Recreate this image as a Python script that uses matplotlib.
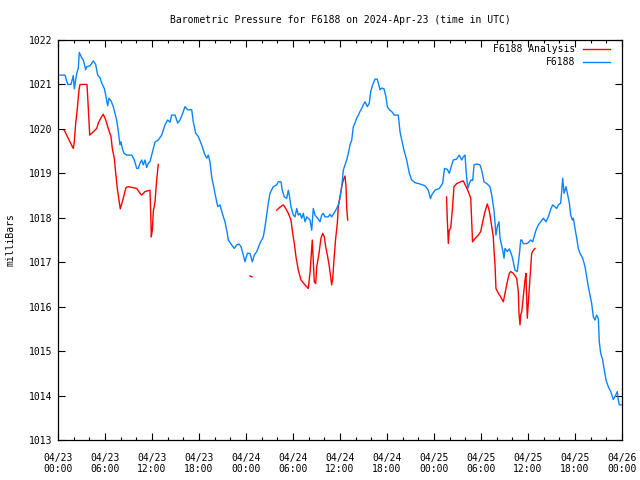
import numpy as np
import matplotlib
matplotlib.use("Agg")
import matplotlib.pyplot as plt
from matplotlib.ticker import MultipleLocator
from matplotlib.lines import Line2D

# hours since 2024-04-23 00:00 UTC
blue_t = [0.26, 0.89, 1.24, 1.66, 1.95, 2.08, 2.39, 2.59, 2.72, 3.03, 3.23, 3.54, 3.66, 4.09, 4.51, 4.81,
          5.07, 5.36, 5.58, 5.91, 6.09, 6.34, 6.51, 6.77, 7.06, 7.28, 7.49, 7.70, 7.91, 8.04, 8.21, 8.43,
          8.77, 9.41, 9.74, 10.05, 10.25, 10.47, 10.68, 10.89, 11.11, 11.32, 11.53, 11.74, 11.96, 12.17,
          12.38, 12.80, 13.24, 13.66, 14.00, 14.30, 14.51, 14.94, 15.28, 15.57, 15.92, 16.21, 16.56, 17.07,
          17.27, 17.58, 17.91, 18.34, 18.68, 18.98, 19.19, 19.40, 19.62, 19.83, 20.13, 20.39, 20.68, 20.97,
          21.32, 21.61, 21.74, 22.17, 22.51, 22.81, 23.11, 23.36, 23.66, 23.87, 24.17, 24.51, 24.80, 25.06,
          25.37, 25.79, 26.21, 26.43, 26.64, 26.85, 27.06, 27.48, 27.92, 28.12, 28.47, 28.63, 28.89, 29.20,
          29.40, 29.53, 29.74, 30.04, 30.26, 30.47, 30.68, 30.89, 31.11, 31.32, 31.53, 31.75, 31.95, 32.17,
          32.39, 32.59, 32.81, 33.15, 33.45, 33.66, 33.87, 34.09, 34.51, 34.72, 34.94, 35.27, 35.58, 35.78,
          36.00, 36.22, 36.42, 36.64, 36.86, 37.06, 37.28, 37.50, 37.70, 37.91, 38.13, 38.34, 38.55, 38.77,
          38.97, 39.19, 39.49, 39.74, 39.92, 40.17, 40.47, 40.76, 41.11, 41.32, 41.62, 41.87, 42.04, 42.29,
          42.60, 42.93, 43.44, 43.66, 43.88, 44.17, 44.51, 44.85, 45.15, 45.57, 46.21, 46.85, 47.27, 47.55,
          47.70, 48.13, 48.68, 49.11, 49.34, 49.70, 49.95, 50.13, 50.46, 50.87, 51.23, 51.53, 51.74, 51.96,
          52.12, 52.32, 52.53, 52.72, 52.94, 53.11, 53.45, 53.87, 54.09, 54.38, 54.73, 55.15, 55.37, 55.66,
          55.91, 56.08, 56.30, 56.43, 56.77, 56.94, 57.06, 57.36, 57.62, 57.92, 58.12, 58.34, 58.63, 58.89,
          59.07, 59.20, 59.40, 59.91, 60.35, 60.60, 60.77, 61.02, 61.32, 61.62, 61.96, 62.30, 62.59, 62.90,
          63.15, 63.66, 63.87, 64.17, 64.30, 64.43, 64.60, 64.85, 65.02, 65.28, 65.45, 65.66, 65.79, 66.00,
          66.22, 66.42, 66.64, 66.98, 67.28, 67.49, 67.70, 67.91, 68.13, 68.34, 68.55, 68.77, 68.98, 69.10,
          69.28, 69.54, 69.70, 69.96, 70.25, 70.56, 70.89, 71.20, 71.40, 71.53, 71.66, 71.88]
blue_p = [1021.21, 1021.21, 1021.0, 1021.0, 1021.2, 1020.9, 1021.25, 1021.36, 1021.72, 1021.6, 1021.55, 1021.33,
          1021.4, 1021.42, 1021.53, 1021.45, 1021.21, 1021.15, 1021.03, 1020.91, 1020.76, 1020.52, 1020.69,
          1020.63, 1020.5, 1020.35, 1020.2, 1019.94, 1019.64, 1019.71, 1019.56, 1019.45, 1019.41, 1019.41,
          1019.3, 1019.11, 1019.11, 1019.23, 1019.3, 1019.19, 1019.3, 1019.13, 1019.23, 1019.26, 1019.41,
          1019.56, 1019.7, 1019.75, 1019.86, 1020.09, 1020.2, 1020.15, 1020.31, 1020.31, 1020.13, 1020.2,
          1020.35, 1020.5, 1020.43, 1020.43, 1020.16, 1019.9, 1019.83, 1019.64, 1019.45, 1019.34, 1019.41,
          1019.26, 1018.92, 1018.74, 1018.47, 1018.25, 1018.29, 1018.1, 1017.91, 1017.65, 1017.5, 1017.39,
          1017.31, 1017.39, 1017.41, 1017.35, 1017.16, 1017.01, 1017.2, 1017.2, 1017.01, 1017.16, 1017.24,
          1017.43, 1017.57, 1017.8, 1018.06, 1018.33, 1018.55, 1018.7, 1018.74, 1018.81, 1018.81, 1018.62,
          1018.47, 1018.44, 1018.62, 1018.51, 1018.25, 1018.06, 1018.02, 1018.21, 1018.06, 1018.1, 1017.99,
          1018.1, 1017.91, 1018.02, 1017.99, 1017.95, 1017.72, 1018.21, 1018.06, 1017.99, 1017.91, 1018.06,
          1018.1, 1018.02, 1018.02, 1018.08, 1018.02, 1018.12, 1018.21, 1018.29, 1018.44, 1018.7, 1019.07,
          1019.19, 1019.3, 1019.45, 1019.64, 1019.75, 1020.05, 1020.13, 1020.24, 1020.31, 1020.39, 1020.46,
          1020.54, 1020.61, 1020.5, 1020.58, 1020.84, 1020.99, 1021.12, 1021.12, 1020.88, 1020.92, 1020.9,
          1020.72, 1020.5, 1020.43, 1020.39, 1020.31, 1020.31, 1019.94, 1019.75, 1019.52, 1019.3, 1019.0,
          1018.85, 1018.79, 1018.76, 1018.72, 1018.62, 1018.43, 1018.51, 1018.62, 1018.66, 1018.78, 1019.11,
          1019.09, 1019.0, 1019.11, 1019.3, 1019.32, 1019.41, 1019.3, 1019.37, 1019.41, 1019.0, 1018.66,
          1018.78, 1018.85, 1018.84, 1019.19, 1019.21, 1019.19, 1019.07, 1018.81, 1018.77, 1018.7, 1018.51,
          1018.17, 1017.61, 1017.8, 1017.91, 1017.54, 1017.27, 1017.09, 1017.31, 1017.24, 1017.3, 1017.16,
          1017.01, 1016.82, 1016.79, 1017.16, 1017.5, 1017.5, 1017.42, 1017.42, 1017.5, 1017.46, 1017.57,
          1017.72, 1017.84, 1017.91, 1017.99, 1017.91, 1018.02, 1018.19, 1018.29, 1018.21, 1018.29, 1018.33,
          1018.59, 1018.89, 1018.55, 1018.7, 1018.55, 1018.33, 1018.06, 1017.95, 1017.99, 1017.76, 1017.54,
          1017.31, 1017.2, 1017.09, 1016.9, 1016.67, 1016.45, 1016.26, 1016.07, 1015.77, 1015.7, 1015.81,
          1015.73, 1015.21, 1014.95, 1014.8, 1014.61, 1014.35, 1014.2, 1014.09, 1013.91, 1014.01, 1014.09,
          1013.9, 1013.79, 1013.79]

nan = float("nan")
red_t = [0.80, 1.11, 1.53, 1.95, 2.08, 2.26, 2.43, 2.68, 2.81, 3.70, 3.79, 3.96, 4.05, 4.30, 4.94, 5.14,
         5.49, 5.78, 6.09, 6.42, 6.77, 6.93, 7.19, 7.37, 7.57, 7.79, 7.95, 8.21, 8.43, 8.68, 8.97, 9.49,
         10.05, 10.47, 10.68, 11.11, 11.74, 11.83, 11.91, 12.04, 12.17, 12.38, 12.60, 12.80, nan,
         24.51, 24.77, nan,
         27.92, 28.34, 28.76, 29.07, 29.40, 29.74, 29.96, 30.17, 30.38, 30.68, 31.02, 31.53, 31.95, 32.17,
         32.46, 32.59, 32.72, 32.90, 33.03, 33.32, 33.57, 33.79, 34.00, 34.17, 34.43, 34.64, 34.81, 34.94,
         35.07, 35.23, 35.45, 35.66, 35.78, 36.00, 36.22, 36.42, 36.64, 36.77, 36.86, 36.98, nan,
         49.60, 49.70, 49.83, 49.95, 50.13, 50.34, 50.55, 50.90, 51.41, 51.74, 52.09, 52.38, 52.69, 52.81,
         52.92, 53.23, 53.66, 53.96, 54.22, 54.51, 54.80, 54.98, 55.15, 55.37, 55.57, 55.66, 55.79, 55.91,
         56.21, 56.51, 56.85, 57.06, 57.36, 57.62, 57.79, 58.12, 58.55, 58.76, 58.85, 58.98, 59.07, 59.20,
         59.40, 59.62, 59.74, 59.83, 59.91, 60.09, 60.26, 60.47, 60.68, 60.89]
red_p = [1019.97, 1019.86, 1019.71, 1019.56, 1019.71, 1020.13, 1020.39, 1020.88, 1021.0, 1021.0, 1020.72,
         1020.13, 1019.86, 1019.9, 1020.01, 1020.13, 1020.25, 1020.33, 1020.2, 1020.01, 1019.82, 1019.56,
         1019.34, 1019.0, 1018.66, 1018.4, 1018.2, 1018.36, 1018.51, 1018.68, 1018.7, 1018.68, 1018.66,
         1018.55, 1018.51, 1018.59, 1018.62, 1018.14, 1017.57, 1017.72, 1018.14, 1018.36, 1018.85, 1019.2, nan,
         1016.69, 1016.67, nan,
         1018.17, 1018.24, 1018.29, 1018.21, 1018.1, 1017.95, 1017.65, 1017.42, 1017.12, 1016.82, 1016.6,
         1016.49, 1016.41, 1016.75, 1017.5, 1017.05, 1016.56, 1016.52, 1016.9, 1017.2, 1017.54, 1017.65,
         1017.57, 1017.35, 1017.12, 1016.9, 1016.67, 1016.49, 1016.64, 1017.05, 1017.54, 1017.88, 1018.25,
         1018.47, 1018.7, 1018.85, 1018.94, 1018.7, 1018.21, 1017.95, nan,
         1018.47, 1017.95, 1017.42, 1017.72, 1017.77, 1018.17, 1018.7, 1018.77, 1018.81, 1018.83, 1018.7,
         1018.59, 1018.44, 1017.95, 1017.46, 1017.53, 1017.61, 1017.69, 1017.91, 1018.14, 1018.31, 1018.21,
         1018.06, 1017.8, 1017.57, 1017.27, 1016.94, 1016.41, 1016.3, 1016.22, 1016.11, 1016.3, 1016.56,
         1016.75, 1016.79, 1016.75, 1016.64, 1016.34, 1015.85, 1015.59, 1015.81, 1015.89, 1016.22, 1016.6,
         1016.75, 1016.22, 1015.74, 1016.22, 1016.67, 1017.2, 1017.27, 1017.31]

xtick_hours = [0, 6, 12, 18, 24, 30, 36, 42, 48, 54, 60, 66, 72]
xtick_labels = ["04/23\n00:00", "04/23\n06:00", "04/23\n12:00", "04/23\n18:00",
                "04/24\n00:00", "04/24\n06:00", "04/24\n12:00", "04/24\n18:00",
                "04/25\n00:00", "04/25\n06:00", "04/25\n12:00", "04/25\n18:00",
                "04/26\n00:00"]
yticks = [1013, 1014, 1015, 1016, 1017, 1018, 1019, 1020, 1021, 1022]

plt.rcParams['font.family'] = ['DejaVu Sans Mono']
FS = 7

fig = plt.figure(figsize=(6.4, 4.8), dpi=100)
ax = fig.add_axes([58/640, 1-440/480, 564/640, 400/480])

RED = '#ff0000'
BLUE = '#0a84ff'
LW = 1.0
ax.plot(red_t, red_p, color=RED, lw=LW)
ax.plot(blue_t, blue_p, color=BLUE, lw=LW)

ax.set_xlim(0, 72)
ax.set_ylim(1013, 1022)
ax.set_xticks(xtick_hours)
ax.set_xticklabels(xtick_labels, fontsize=FS)
ax.xaxis.set_minor_locator(MultipleLocator(2))
ax.set_yticks(yticks)
ax.set_yticklabels([str(v) for v in yticks], fontsize=FS)

ax.tick_params(axis='both', which='major', direction='in', length=5, width=0.8,
               top=True, right=True, pad=4)
ax.tick_params(axis='x', which='major', pad=9)
ax.tick_params(axis='x', which='minor', direction='in', length=2.5, width=0.8,
               top=True, bottom=True)
for s in ax.spines.values():
    s.set_linewidth(0.9)

ax.set_ylabel("milliBars", fontsize=FS, labelpad=10)
ax.set_title("Barometric Pressure for F6188 on 2024-Apr-23 (time in UTC)", fontsize=FS, pad=12)

# legend (gnuplot style: right-aligned text, sample to the right)
leg_rows = [("F6188 Analysis", RED, 0.9775), ("F6188", BLUE, 0.945)]
for label, col, yy in leg_rows:
    ax.text(0.9167, yy, label, transform=ax.transAxes, ha='right', va='center', fontsize=FS)
    ax.add_line(Line2D([0.931, 0.979], [yy, yy], transform=ax.transAxes, color=col, lw=LW))

fig.savefig("out.png", dpi=100)
